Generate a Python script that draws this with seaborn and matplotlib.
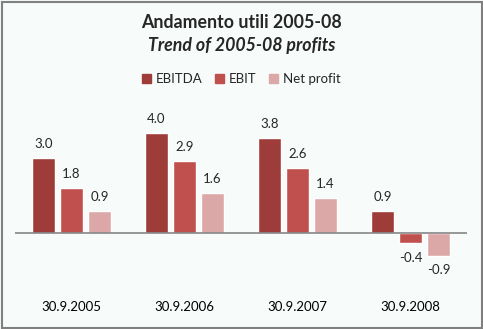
import matplotlib
matplotlib.use("Agg")
import matplotlib.pyplot as plt
import matplotlib.patches as mpatches
import seaborn as sns
import pandas as pd

categories = ["30.9.2005", "30.9.2006", "30.9.2007", "30.9.2008"]
series = ["EBITDA", "EBIT", "Net profit"]
ebitda = [3.0, 4.0, 3.8, 0.9]
ebit = [1.8, 2.9, 2.6, -0.4]
net_profit = [0.9, 1.6, 1.4, -0.9]

colors = ["#9E3C3A", "#C0504D", "#DBA8A7"]
bg = "#F7FBF9"

df = pd.DataFrame({
    "period": categories * 3,
    "series": [s for s in series for _ in categories],
    "value": ebitda + ebit + net_profit,
})

sns.set_theme(style="white")
plt.rcParams["font.family"] = ["Lato", "DejaVu Sans"]

W, H = 483, 329
fig = plt.figure(figsize=(W / 100, H / 100), dpi=100, facecolor=bg)
ax = fig.add_axes([15 / W, 1 - 283 / H, 452 / W, 183 / H])
ax.set_facecolor(bg)

sns.barplot(data=df, x="period", y="value", hue="series", hue_order=series,
            palette=colors, width=0.745, gap=0.21, saturation=1,
            legend=False, ax=ax)

ax.set_ylim(-2.0, 5.32)
ax.set_xlim(-0.5, 3.5)
ax.axhline(0, color="#868686", lw=1.2, zorder=5)
for sp in ax.spines.values():
    sp.set_visible(False)
ax.set_yticks([])
ax.set_xlabel("")
ax.set_ylabel("")
ax.tick_params(axis="x", length=0, pad=13, labelsize=9.5, labelcolor="black")

# value labels above positive bars, below negative ones
for cont in ax.containers:
    for bar in cont:
        y0, h = bar.get_y(), bar.get_height()
        top, bottom = max(y0, y0 + h), min(y0, y0 + h)
        xc = bar.get_x() + bar.get_width() / 2
        if bottom < 0:
            ax.annotate(f"{bottom:.1f}", (xc, bottom), xytext=(0, -15),
                        textcoords="offset pixels", ha="center", va="center",
                        fontsize=9.5)
        else:
            ax.annotate(f"{top:.1f}", (xc, top), xytext=(0, 14),
                        textcoords="offset pixels", ha="center", va="center",
                        fontsize=9.5)

fig.text(0.5, 1 - 22 / H, "Andamento utili 2005-08", ha="center", va="center",
         fontsize=12.8, fontweight="bold")
fig.text(0.5, 1 - 45 / H, "Trend of 2005-08 profits", ha="center", va="center",
         fontsize=12.8, fontweight="bold", style="italic")

handles = [mpatches.Patch(color=c, label=s) for c, s in zip(colors, series)]
fig.legend(handles=handles, loc="center", bbox_to_anchor=(0.5, 1 - 79 / H),
           ncol=3, frameon=False, fontsize=9.5, handlelength=0.65,
           handleheight=0.65, handletextpad=0.4, columnspacing=0.95)

fig.patches.append(mpatches.Rectangle((1.5 / W, 1.5 / H), (W - 3) / W, (H - 3) / H,
                                      transform=fig.transFigure, fill=False,
                                      edgecolor="#808080", lw=1.5))

fig.savefig("out.png", dpi=100, facecolor=bg)
